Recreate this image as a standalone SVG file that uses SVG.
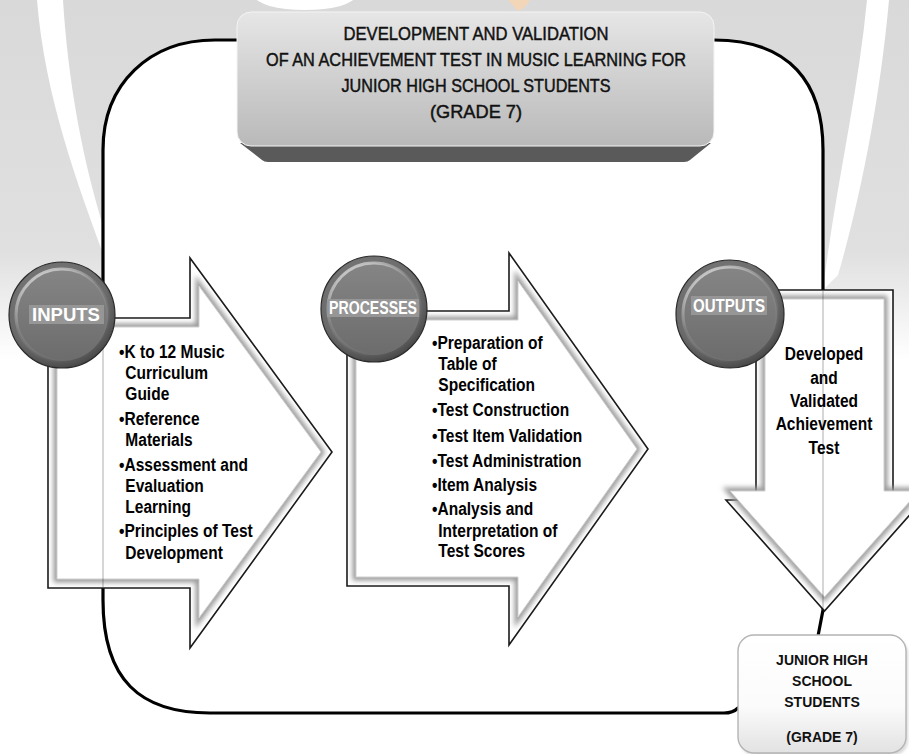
<svg xmlns="http://www.w3.org/2000/svg" width="909" height="754" viewBox="0 0 909 754">
<defs>
<style>
.title{font-family:"Liberation Sans",Arial,sans-serif;font-size:18px;fill:#111;stroke:#111;stroke-width:0.45;text-anchor:middle}
.bul{font-family:"Liberation Sans",Arial,sans-serif;font-size:18.5px;font-weight:bold;fill:#000}
.lab{font-family:"Liberation Sans",Arial,sans-serif;font-size:18px;font-weight:bold;fill:#fff;text-anchor:middle}
.box{font-family:"Liberation Sans",Arial,sans-serif;font-size:14px;font-weight:bold;fill:#111;text-anchor:middle}
.outer{fill:#fff;stroke:#1a1a1a;stroke-width:1.6;stroke-linejoin:miter}
.shade{fill:none;stroke:#9a9a9a;stroke-width:7;filter:url(#blur)}
.inner{fill:#fff;stroke:#cfcfcf;stroke-width:1}
.loop{fill:none;stroke:#000;stroke-width:3.2;stroke-linecap:round}
.faint{fill:none;stroke:#000;stroke-width:2;opacity:0.16}
</style>
<filter id="blur" x="-10%" y="-10%" width="120%" height="120%"><feGaussianBlur stdDeviation="2.6"/></filter>
<filter id="soft" x="-10%" y="-10%" width="120%" height="120%"><feGaussianBlur stdDeviation="1.5"/></filter>
<linearGradient id="bg" x1="0" y1="0" x2="0" y2="1">
<stop offset="0" stop-color="#d9d9d9"/><stop offset="0.7" stop-color="#e0e0e0"/><stop offset="1" stop-color="#ffffff"/>
</linearGradient>
<linearGradient id="titleG" x1="0" y1="0" x2="0" y2="1">
<stop offset="0" stop-color="#e6e6e6"/><stop offset="1" stop-color="#b9b9b9"/>
</linearGradient>
<linearGradient id="boxG" x1="0" y1="0" x2="0" y2="1">
<stop offset="0" stop-color="#ffffff"/><stop offset="0.6" stop-color="#fbfbfb"/><stop offset="1" stop-color="#e2e2e2"/>
</linearGradient>
<radialGradient id="ballG" cx="0.45" cy="0.4" r="0.6">
<stop offset="0" stop-color="#8a8a8a"/><stop offset="0.8" stop-color="#6a6a6a"/><stop offset="1" stop-color="#4a4a4a"/>
</radialGradient>
<linearGradient id="faceG" x1="0" y1="0" x2="0" y2="1">
<stop offset="0" stop-color="#858585"/><stop offset="1" stop-color="#6c6c6c"/>
</linearGradient>
<linearGradient id="rimG" x1="0" y1="0" x2="0.6" y2="1">
<stop offset="0" stop-color="#ffffff" stop-opacity="0.75"/><stop offset="0.5" stop-color="#ffffff" stop-opacity="0.1"/><stop offset="1" stop-color="#ffffff" stop-opacity="0"/>
</linearGradient>
</defs>

<!-- faint background watermark -->
<g id="watermark">
<rect x="0" y="0" width="909" height="360" fill="url(#bg)"/>
<path d="M37,0 L63,0 C68,80 82,160 106,235 L106,262 C80,190 45,100 37,0 Z" fill="#ffffff"/>
<path d="M867,0 L889,0 C880,100 860,200 838,275 L823,290 C835,190 858,95 867,0 Z" fill="#ffffff"/>
<ellipse cx="305" cy="-4" rx="50" ry="14" fill="#ffffff"/>
<path d="M508,0 L530,0 C527,5 523,9 518,11 Z" fill="#f3d6b8"/>
</g>

<!-- white interior of the loop -->
<path d="M237,40 H215 C150,40 103,83 103,150 V600 C103,680 140,713 210,713 H738 V640 L823,610 V150 C823,83 790,40 714,40 Z" fill="#ffffff"/>

<g id="connectors">
<path class="loop" d="M237,40 H215 C150,40 103,83 103,150 V600 C103,680 140,713 210,713 H724 C731,713 735,711 738,708"/>
<path class="loop" d="M714,40 C790,40 823,83 823,150 V610 L818,636"/>
</g>

<g id="title">
<path d="M240,143 H711 L690,160 Q688,162 684,162 H268 Q264,162 262,160 Z" fill="#5a5a5a"/>
<rect x="237" y="12" width="477" height="134" rx="14" fill="url(#titleG)" stroke="#f4f4f4" stroke-width="1"/>
<text class="title" x="476" y="40" textLength="265" lengthAdjust="spacingAndGlyphs">DEVELOPMENT AND VALIDATION</text>
<text class="title" x="476" y="66" textLength="420" lengthAdjust="spacingAndGlyphs">OF AN ACHIEVEMENT TEST IN MUSIC LEARNING FOR</text>
<text class="title" x="476" y="92" textLength="269" lengthAdjust="spacingAndGlyphs">JUNIOR HIGH SCHOOL STUDENTS</text>
<text class="title" x="476" y="118" textLength="92" lengthAdjust="spacingAndGlyphs">(GRADE 7)</text>
</g>

<g id="inputs-arrow">
<polygon class="outer" points="48,318 190,318 190,258 332,452 190,648 190,588 48,588"/>
<polygon class="shade" points="57,327 199,327 199,286 321,452 199,618 199,579 57,579"/>
<polygon class="inner" points="57,327 199,327 199,286 321,452 199,618 199,579 57,579"/>
<line class="faint" x1="103" y1="319" x2="103" y2="587"/>
<g transform="translate(119,0) scale(0.84,1)">
<text class="bul" x="0" y="358">•K to 12 Music</text>
<text class="bul" x="7.5" y="379">Curriculum</text>
<text class="bul" x="7.5" y="400">Guide</text>
<text class="bul" x="0" y="425">•Reference</text>
<text class="bul" x="7.5" y="446">Materials</text>
<text class="bul" x="0" y="471">•Assessment and</text>
<text class="bul" x="7.5" y="492">Evaluation</text>
<text class="bul" x="7.5" y="513">Learning</text>
<text class="bul" x="0" y="537">•Principles of Test</text>
<text class="bul" x="7.5" y="559">Development</text>
</g>
</g>

<g id="processes-arrow">
<polygon class="outer" points="347,311 509,311 509,253 648,449 509,645 509,586 347,586"/>
<polygon class="shade" points="356,320 518,320 518,281 637,449 518,617 518,577 356,577"/>
<polygon class="inner" points="356,320 518,320 518,281 637,449 518,617 518,577 356,577"/>
<g transform="translate(432,0) scale(0.84,1)">
<text class="bul" x="0" y="349">•Preparation of</text>
<text class="bul" x="7.5" y="370">Table of</text>
<text class="bul" x="7.5" y="391">Specification</text>
<text class="bul" x="0" y="416">•Test Construction</text>
<text class="bul" x="0" y="442">•Test Item Validation</text>
<text class="bul" x="0" y="467">•Test Administration</text>
<text class="bul" x="0" y="491">•Item Analysis</text>
<text class="bul" x="0" y="515">•Analysis and</text>
<text class="bul" x="7.5" y="537">Interpretation of</text>
<text class="bul" x="7.5" y="557">Test Scores</text>
</g>
</g>

<g id="outputs-arrow">
<polygon class="outer" points="756,290 893,290 893,500 923,500 824.5,611 726,500 756,500"/>
<polygon class="shade" points="765,299 884,299 884,491 919,491 824.5,597 730,491 765,491"/>
<polygon class="inner" points="765,299 884,299 884,491 919,491 824.5,597 730,491 765,491"/>
<line class="faint" x1="823" y1="291" x2="823" y2="609"/>
<g transform="translate(824,0) scale(0.84,1)">
<text class="bul" x="0" y="360" text-anchor="middle">Developed</text>
<text class="bul" x="0" y="384" text-anchor="middle">and</text>
<text class="bul" x="0" y="407" text-anchor="middle">Validated</text>
<text class="bul" x="0" y="430" text-anchor="middle">Achievement</text>
<text class="bul" x="0" y="454" text-anchor="middle">Test</text>
</g>
</g>

<g id="inputs">
<circle cx="62" cy="315" r="53" fill="url(#ballG)" stroke="#2a2a2a" stroke-width="1.2"/>
<circle cx="62" cy="315" r="46" fill="url(#faceG)" stroke="url(#rimG)" stroke-width="3"/>
<rect x="29" y="305" width="75" height="19" fill="#969696"/>
<text class="lab" x="66" y="321" textLength="68" lengthAdjust="spacingAndGlyphs">INPUTS</text>
</g>

<g id="processes">
<circle cx="374" cy="309" r="53" fill="url(#ballG)" stroke="#2a2a2a" stroke-width="1.2"/>
<circle cx="374" cy="309" r="46" fill="url(#faceG)" stroke="url(#rimG)" stroke-width="3"/>
<rect x="327" y="299" width="92" height="18" fill="#969696"/>
<text class="lab" x="373" y="314" font-size="17" textLength="88" lengthAdjust="spacingAndGlyphs">PROCESSES</text>
</g>

<g id="outputs">
<circle cx="730" cy="314" r="54" fill="url(#ballG)" stroke="#2a2a2a" stroke-width="1.2"/>
<circle cx="730" cy="314" r="47" fill="url(#faceG)" stroke="url(#rimG)" stroke-width="3"/>
<rect x="691" y="296" width="76" height="19" fill="#969696"/>
<text class="lab" x="729" y="312" font-size="17" textLength="72" lengthAdjust="spacingAndGlyphs">OUTPUTS</text>
</g>

<g id="students">
<rect x="740" y="638" width="168" height="118" rx="16" fill="#000" opacity="0.15" filter="url(#soft)"/>
<rect x="738" y="635" width="168" height="118" rx="16" fill="url(#boxG)" stroke="#b4b4b4" stroke-width="1.4"/>
<text class="box" x="822" y="665">JUNIOR HIGH</text>
<text class="box" x="822" y="686">SCHOOL</text>
<text class="box" x="822" y="707">STUDENTS</text>
<text class="box" x="822" y="742">(GRADE 7)</text>
</g>
</svg>
